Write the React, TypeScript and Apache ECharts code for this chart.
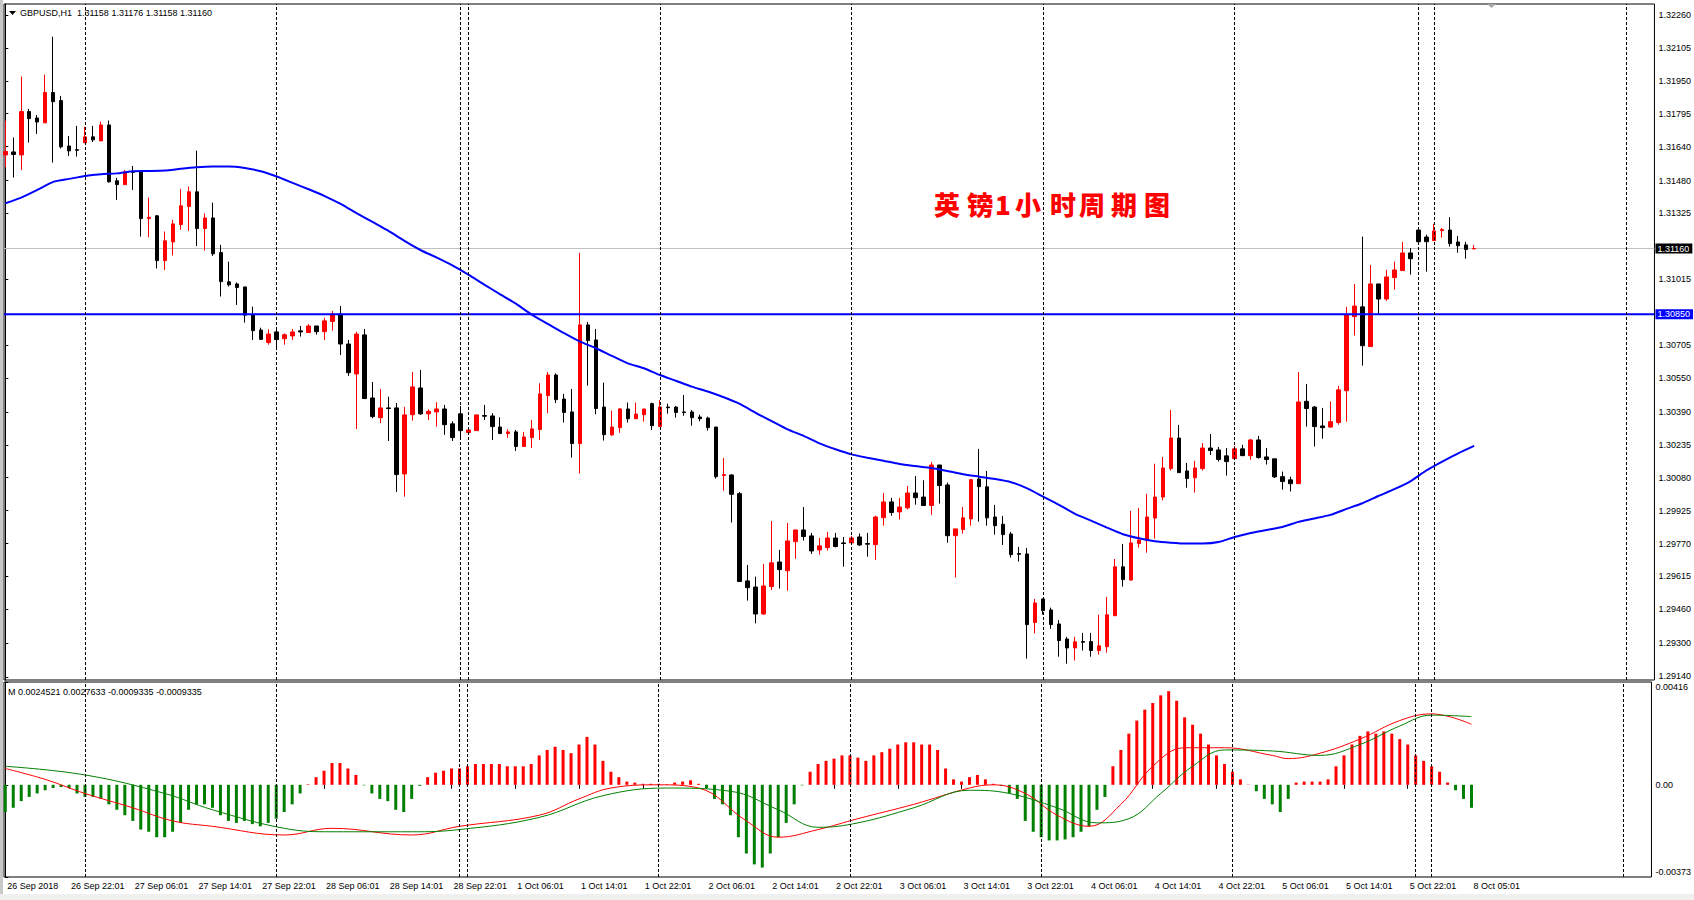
import React, { useEffect, useRef } from 'react';
import * as echarts from 'echarts';

// ---------- data ----------
const openP = [
  1.31601, 1.31615, 1.31601, 1.31805, 1.31775, 1.31752, 1.31895, 1.31857, 1.31643, 1.31626,
  1.31658, 1.31686, 1.31667, 1.31742, 1.31479, 1.31461, 1.31522, 1.31526, 1.31301, 1.31314,
  1.31103, 1.31191, 1.31273, 1.31358, 1.31427, 1.31254, 1.31304, 1.31141, 1.31003, 1.30993,
  1.30979, 1.30848, 1.30776, 1.30717, 1.30767, 1.30735, 1.30748, 1.30772, 1.30764, 1.30795,
  1.30768, 1.30816, 1.30852, 1.30710, 1.30569, 1.30753, 1.30456, 1.30363, 1.30409, 1.30409,
  1.30098, 1.30377, 1.30503, 1.30381, 1.30390, 1.30404, 1.30334, 1.30381, 1.30293, 1.30302,
  1.30373, 1.30371, 1.30319, 1.30288, 1.30296, 1.30227, 1.30269, 1.30307, 1.30467, 1.30564,
  1.30451, 1.30390, 1.30241, 1.30800, 1.30729, 1.30413, 1.30282, 1.30316, 1.30404, 1.30358,
  1.30377, 1.30429, 1.30321, 1.30413, 1.30413, 1.30390, 1.30390, 1.30366, 1.30361, 1.30319,
  1.30090, 1.30093, 1.30005, 1.29594, 1.29565, 1.29438, 1.29567, 1.29683, 1.29642, 1.29779,
  1.29834, 1.29806, 1.29740, 1.29751, 1.29796, 1.29773, 1.29773, 1.29801, 1.29770, 1.29765,
  1.29892, 1.29966, 1.29919, 1.29938, 1.30008, 1.29989, 1.29949, 1.30140, 1.30046, 1.29807,
  1.29836, 1.29886, 1.30074, 1.30037, 1.29895, 1.29861, 1.29815, 1.29723, 1.29721, 1.29398,
  1.29509, 1.29457, 1.29391, 1.29320, 1.29278, 1.29308, 1.29308, 1.29266, 1.29284, 1.29430,
  1.29660, 1.29598, 1.29770, 1.29784, 1.29890, 1.29989, 1.30123, 1.30267, 1.30112, 1.30080,
  1.30123, 1.30220, 1.30211, 1.30183, 1.30170, 1.30216, 1.30184, 1.30258, 1.30178, 1.30169,
  1.30085, 1.30070, 1.30052, 1.30440, 1.30413, 1.30324, 1.30319, 1.30340, 1.30490, 1.30839,
  1.30885, 1.30698, 1.30993, 1.30922, 1.31023, 1.31056, 1.31139, 1.31247, 1.31214, 1.31197,
  1.31244, 1.31247, 1.31191, 1.31177, 1.31158
];
const closeP = [
  1.31617, 1.31603, 1.31805, 1.31772, 1.31756, 1.31895, 1.31852, 1.31639, 1.31620, 1.31623,
  1.31686, 1.31672, 1.31742, 1.31474, 1.31461, 1.31521, 1.31519, 1.31301, 1.31307, 1.31103,
  1.31196, 1.31276, 1.31361, 1.31427, 1.31254, 1.31304, 1.31135, 1.31004, 1.30989, 1.30976,
  1.30846, 1.30773, 1.30732, 1.30757, 1.30731, 1.30754, 1.30767, 1.30767, 1.30795, 1.30768,
  1.30819, 1.30852, 1.30710, 1.30575, 1.30757, 1.30453, 1.30368, 1.30409, 1.30406, 1.30095,
  1.30376, 1.30508, 1.30381, 1.30393, 1.30404, 1.30330, 1.30269, 1.30302, 1.30305, 1.30376,
  1.30370, 1.30321, 1.30288, 1.30296, 1.30227, 1.30272, 1.30310, 1.30475, 1.30564, 1.30448,
  1.30387, 1.30241, 1.30800, 1.30726, 1.30406, 1.30283, 1.30319, 1.30404, 1.30358, 1.30380,
  1.30404, 1.30325, 1.30413, 1.30410, 1.30387, 1.30387, 1.30363, 1.30358, 1.30316, 1.30085,
  1.30095, 1.30002, 1.29591, 1.29562, 1.29438, 1.29570, 1.29679, 1.29647, 1.29782, 1.29834,
  1.29803, 1.29735, 1.29759, 1.29796, 1.29756, 1.29770, 1.29796, 1.29763, 1.29767, 1.29895,
  1.29966, 1.29916, 1.29942, 1.30008, 1.29986, 1.29949, 1.30140, 1.30043, 1.29807, 1.29839,
  1.29891, 1.30071, 1.30038, 1.29891, 1.29854, 1.29812, 1.29718, 1.29719, 1.29388, 1.29490,
  1.29454, 1.29388, 1.29313, 1.29278, 1.29307, 1.29305, 1.29266, 1.29288, 1.29434, 1.29660,
  1.29600, 1.29773, 1.29787, 1.29895, 1.29989, 1.30126, 1.30267, 1.30104, 1.30076, 1.30126,
  1.30220, 1.30208, 1.30166, 1.30156, 1.30216, 1.30184, 1.30258, 1.30175, 1.30166, 1.30084,
  1.30062, 1.30052, 1.30437, 1.30406, 1.30321, 1.30316, 1.30344, 1.30494, 1.30847, 1.30889,
  1.30702, 1.30993, 1.30922, 1.31026, 1.31059, 1.31139, 1.31112, 1.31192, 1.31192, 1.31243,
  1.31249, 1.31183, 1.31173, 1.31155, 1.31160
];
const lowP = [
  1.31543, 1.31494, 1.31530, 1.31659, 1.31700, 1.31752, 1.31565, 1.31631, 1.31596, 1.31593,
  1.31658, 1.31662, 1.31667, 1.31471, 1.31389, 1.31461, 1.31436, 1.31216, 1.31213, 1.31066,
  1.31059, 1.31127, 1.31248, 1.31243, 1.31172, 1.31150, 1.31125, 1.30934, 1.30981, 1.30894,
  1.30811, 1.30729, 1.30729, 1.30707, 1.30690, 1.30707, 1.30729, 1.30745, 1.30764, 1.30754,
  1.30729, 1.30773, 1.30658, 1.30560, 1.30310, 1.30453, 1.30360, 1.30337, 1.30253, 1.30013,
  1.29991, 1.30349, 1.30376, 1.30352, 1.30321, 1.30282, 1.30253, 1.30264, 1.30290, 1.30302,
  1.30352, 1.30258, 1.30288, 1.30268, 1.30206, 1.30227, 1.30220, 1.30258, 1.30384, 1.30432,
  1.30340, 1.30175, 1.30100, 1.30514, 1.30379, 1.30255, 1.30277, 1.30292, 1.30340, 1.30358,
  1.30344, 1.30305, 1.30321, 1.30382, 1.30363, 1.30372, 1.30325, 1.30346, 1.30302, 1.30076,
  1.30019, 1.29869, 1.29591, 1.29501, 1.29394, 1.29434, 1.29551, 1.29558, 1.29548, 1.29698,
  1.29784, 1.29721, 1.29718, 1.29737, 1.29752, 1.29661, 1.29773, 1.29759, 1.29708, 1.29693,
  1.29854, 1.29901, 1.29883, 1.29931, 1.29953, 1.29949, 1.29905, 1.29958, 1.29774, 1.29610,
  1.29817, 1.29854, 1.29873, 1.29854, 1.29812, 1.29763, 1.29704, 1.29685, 1.29228, 1.29346,
  1.29435, 1.29368, 1.29237, 1.29204, 1.29219, 1.29266, 1.29237, 1.29247, 1.29256, 1.29430,
  1.29567, 1.29595, 1.29751, 1.29727, 1.29793, 1.29974, 1.30114, 1.30104, 1.30033, 1.30010,
  1.30114, 1.30187, 1.30156, 1.30090, 1.30170, 1.30184, 1.30165, 1.30170, 1.30142, 1.30079,
  1.30024, 1.30015, 1.30052, 1.30321, 1.30227, 1.30264, 1.30315, 1.30330, 1.30344, 1.30750,
  1.30608, 1.30698, 1.30852, 1.30913, 1.30966, 1.31056, 1.31037, 1.31190, 1.31051, 1.31197,
  1.31211, 1.31169, 1.31140, 1.31112, 1.31158
];
const highP = [
  1.31763, 1.31683, 1.31970, 1.31818, 1.31789, 1.31979, 1.32158, 1.31879, 1.31690, 1.31738,
  1.31734, 1.31738, 1.31758, 1.31763, 1.31493, 1.31530, 1.31549, 1.31529, 1.31400, 1.31318,
  1.31240, 1.31295, 1.31441, 1.31452, 1.31621, 1.31325, 1.31376, 1.31177, 1.31098, 1.31000,
  1.30979, 1.30886, 1.30787, 1.30779, 1.30779, 1.30760, 1.30781, 1.30795, 1.30804, 1.30795,
  1.30833, 1.30866, 1.30889, 1.30729, 1.30768, 1.30781, 1.30531, 1.30498, 1.30462, 1.30432,
  1.30414, 1.30578, 1.30588, 1.30403, 1.30436, 1.30423, 1.30346, 1.30418, 1.30308, 1.30376,
  1.30423, 1.30384, 1.30365, 1.30308, 1.30305, 1.30296, 1.30352, 1.30525, 1.30578, 1.30572,
  1.30475, 1.30498, 1.31140, 1.30814, 1.30781, 1.30528, 1.30396, 1.30409, 1.30434, 1.30434,
  1.30404, 1.30434, 1.30446, 1.30429, 1.30418, 1.30470, 1.30399, 1.30377, 1.30368, 1.30319,
  1.30173, 1.30096, 1.30013, 1.29669, 1.29614, 1.29674, 1.29876, 1.29740, 1.29867, 1.29834,
  1.29942, 1.29820, 1.29796, 1.29825, 1.29820, 1.29801, 1.29806, 1.29817, 1.29820, 1.29901,
  1.30008, 1.29985, 1.29985, 1.30041, 1.30088, 1.30068, 1.30154, 1.30140, 1.30057, 1.29839,
  1.29942, 1.30071, 1.30216, 1.30112, 1.29952, 1.29900, 1.29825, 1.29754, 1.29749, 1.29509,
  1.29509, 1.29468, 1.29409, 1.29330, 1.29330, 1.29349, 1.29349, 1.29435, 1.29518, 1.29697,
  1.29768, 1.29924, 1.29938, 1.30004, 1.30146, 1.30178, 1.30399, 1.30329, 1.30150, 1.30159,
  1.30244, 1.30286, 1.30225, 1.30220, 1.30230, 1.30235, 1.30263, 1.30277, 1.30220, 1.30169,
  1.30109, 1.30085, 1.30578, 1.30522, 1.30418, 1.30409, 1.30439, 1.30512, 1.30885, 1.30993,
  1.31216, 1.31082, 1.30993, 1.31059, 1.31098, 1.31191, 1.31162, 1.31249, 1.31225, 1.31276,
  1.31257, 1.31308, 1.31219, 1.31191, 1.31176
];

const maIdx = [
  0, 2, 4, 6, 8, 10, 12, 14, 16, 18, 20, 22, 24, 26, 28, 30, 32, 34, 36, 38,
  40, 42, 44, 46, 48, 50, 52, 54, 56, 58, 60, 62, 64, 66, 68, 70, 72, 74, 76, 78,
  80, 82, 84, 86, 88, 90, 92, 94, 96, 98, 100, 102, 104, 106, 108, 110, 112, 114, 116, 118,
  120, 122, 124, 126, 128, 130, 132, 134, 136, 138, 140, 142, 144, 146, 148, 150, 152, 154, 156, 158,
  160, 162, 164, 166, 168, 170, 172, 174, 176, 178, 180, 182, 184
];
const maVal = [
  1.31373, 1.31400, 1.31436, 1.31474, 1.31488, 1.31502, 1.31510, 1.31514, 1.31524, 1.31525,
  1.31527, 1.31536, 1.31543, 1.31546, 1.31546, 1.31539, 1.31524, 1.31499, 1.31469, 1.31439,
  1.31407, 1.31370, 1.31327, 1.31285, 1.31243, 1.31196, 1.31153, 1.31118, 1.31080, 1.31037,
  1.30990, 1.30944, 1.30899, 1.30847, 1.30804, 1.30761, 1.30721, 1.30690, 1.30654, 1.30619,
  1.30596, 1.30564, 1.30537, 1.30509, 1.30486, 1.30459, 1.30428, 1.30386, 1.30347, 1.30308,
  1.30277, 1.30242, 1.30214, 1.30190, 1.30174, 1.30160, 1.30145, 1.30135, 1.30126, 1.30112,
  1.30096, 1.30085, 1.30074, 1.30059, 1.30030, 1.29991, 1.29952, 1.29910, 1.29878, 1.29845,
  1.29814, 1.29795, 1.29781, 1.29774, 1.29770, 1.29770, 1.29777, 1.29801, 1.29820, 1.29834,
  1.29848, 1.29872, 1.29888, 1.29905, 1.29933, 1.29960, 1.29994, 1.30026, 1.30063, 1.30114,
  1.30156, 1.30195, 1.30230
];

const histVal = [
  -0.00110, -0.00093, -0.00066, -0.00049, -0.00035, -0.00022, -0.00013, -0.00009, -0.00013, -0.00035,
  -0.00049, -0.00049, -0.00057, -0.00079, -0.00101, -0.00123, -0.00146, -0.00181, -0.00190, -0.00212,
  -0.00212, -0.00190, -0.00154, -0.00101, -0.00079, -0.00079, -0.00093, -0.00123, -0.00146, -0.00154,
  -0.00146, -0.00159, -0.00168, -0.00154, -0.00137, -0.00110, -0.00079, -0.00035, 0.00002, 0.00031,
  0.00057, 0.00088, 0.00088, 0.00066, 0.00040, -0.00002, -0.00035, -0.00057, -0.00066, -0.00101,
  -0.00110, -0.00057, -0.00004, 0.00031, 0.00049, 0.00057, 0.00066, 0.00066, 0.00075, 0.00084,
  0.00084, 0.00084, 0.00084, 0.00075, 0.00075, 0.00075, 0.00084, 0.00119, 0.00141, 0.00154,
  0.00141, 0.00128, 0.00163, 0.00194, 0.00163, 0.00097, 0.00053, 0.00031, 0.00013, 0.00009,
  0.00004, 0.00004, 0.00004, 0.00002, 0.00009, 0.00013, 0.00018, 0.00004, -0.00013, -0.00057,
  -0.00079, -0.00123, -0.00212, -0.00278, -0.00322, -0.00335, -0.00278, -0.00212, -0.00154, -0.00079,
  -0.00002, 0.00053, 0.00084, 0.00097, 0.00106, 0.00119, 0.00119, 0.00110, 0.00097, 0.00119,
  0.00132, 0.00146, 0.00163, 0.00172, 0.00172, 0.00163, 0.00163, 0.00141, 0.00066, 0.00022,
  0.00013, 0.00031, 0.00040, 0.00022, 0.00004, -0.00004, -0.00035, -0.00057, -0.00146, -0.00190,
  -0.00212, -0.00225, -0.00225, -0.00221, -0.00212, -0.00190, -0.00168, -0.00101, -0.00049, 0.00075,
  0.00141, 0.00207, 0.00260, 0.00304, 0.00331, 0.00362, 0.00379, 0.00340, 0.00273, 0.00243,
  0.00207, 0.00163, 0.00119, 0.00084, 0.00053, 0.00022, 0.00001, -0.00026, -0.00057, -0.00079,
  -0.00110, -0.00057, 0.00009, 0.00013, 0.00013, 0.00013, 0.00022, 0.00075, 0.00119, 0.00163,
  0.00198, 0.00216, 0.00207, 0.00216, 0.00207, 0.00185, 0.00163, 0.00119, 0.00097, 0.00075,
  0.00053, 0.00009, -0.00022, -0.00057, -0.00093
];

const macdIdx = [0, 5, 10, 16, 21, 26, 35, 41, 51, 57, 67, 72, 76, 82, 87, 93, 97, 102, 107, 114, 121, 124, 128, 132, 136, 140, 144, 148, 153, 159, 161, 165, 170, 175, 179, 184];
const macdMain = [0.00066, 0.00022, -0.00035, -0.00093, -0.00146, -0.00168, -0.00203, -0.00176, -0.00203, -0.00168, -0.00123, -0.00057, -0.00013, 0.0, -0.00013, -0.00146, -0.00212, -0.00181, -0.00137, -0.00079, -0.00013, 0.0, -0.00035, -0.00123, -0.00168, -0.00079, 0.00075, 0.0015, 0.0015, 0.00119, 0.00106, 0.00128, 0.00185, 0.0026, 0.00287, 0.00245];
const sigIdx = [0, 10, 20, 26, 35, 41, 51, 57, 67, 75, 83, 91, 97, 102, 107, 114, 121, 126, 132, 137, 141, 145, 149, 153, 159, 165, 170, 175, 179, 184];
const sigVal = [0.00075, 0.0004, -0.00035, -0.00101, -0.00176, -0.0019, -0.0019, -0.00181, -0.00132, -0.00044, -0.00013, -0.00026, -0.00101, -0.00172, -0.00154, -0.00093, -0.00022, -0.00035, -0.00093, -0.00154, -0.00137, -0.00035, 0.00075, 0.00141, 0.00137, 0.00119, 0.00163, 0.00238, 0.00282, 0.00276];

const xLabelIdx = [0, 8, 16, 24, 32, 40, 48, 56, 64, 72, 80, 88, 96, 104, 112, 120, 128, 136, 144, 152, 160, 168, 176, 184];
const xLabels = [
  '26 Sep 2018', '26 Sep 22:01', '27 Sep 06:01', '27 Sep 14:01', '27 Sep 22:01', '28 Sep 06:01',
  '28 Sep 14:01', '28 Sep 22:01', '1 Oct 06:01', '1 Oct 14:01', '1 Oct 22:01', '2 Oct 06:01',
  '2 Oct 14:01', '2 Oct 22:01', '3 Oct 06:01', '3 Oct 14:01', '3 Oct 22:01', '4 Oct 06:01',
  '4 Oct 14:01', '4 Oct 22:01', '5 Oct 06:01', '5 Oct 14:01', '5 Oct 22:01', '8 Oct 05:01'
];
const priceTicks = [1.2914, 1.293, 1.2946, 1.29615, 1.2977, 1.29925, 1.3008, 1.30235, 1.3039, 1.3055, 1.30705, 1.31015, 1.31325, 1.3148, 1.3164, 1.31795, 1.3195, 1.32105, 1.3226];
const macdTicks = [0.00416, 0, -0.00373];
const separatorIdx = [10, 34, 57, 58, 82, 106, 130, 154, 177, 179, 203];
const levelPrice = 1.3085;
const bidPrice = 1.3116;
const symbolHeader = 'GBPUSD,H1  1.31158 1.31176 1.31158 1.31160';
const macdHeader = 'M 0.0024521 0.0027633 -0.0009335 -0.0009335';
const titleChars = ['英', '镑', '1', '小', '时', '周', '期', '图'];
const titleCenters = [947, 980, 1003, 1028, 1063, 1092, 1124, 1157];

const FONT = '"Liberation Sans", Arial, sans-serif';
const XMIN = -0.1625;
const XMAX = 206.5875;
const PMIN = 1.29127;
const PMAX = 1.32312;
const MMIN = -0.00373;
const MMAX = 0.00416;

export default function App() {
  const ref = useRef<HTMLDivElement>(null);
  useEffect(() => {
    const chart = echarts.init(ref.current as HTMLDivElement, null, { renderer: 'svg' });
    const candleData = openP.map((o, i) => [i, o, closeP[i], lowP[i], highP[i]]);
    const maData = maIdx.map((x, k) => [x, maVal[k]]);
    const histData = histVal.map((v, i) => ({
      value: [i, v],
      itemStyle: { color: v >= 0 ? '#FF0000' : '#008000' },
    }));
    const mainData = macdIdx.map((x, k) => [x, macdMain[k]]);
    const sigData = sigIdx.map((x, k) => [x, sigVal[k]]);
    const labelMap = new Map<number, string>();
    xLabelIdx.forEach((v, k) => labelMap.set(v, xLabels[k]));

    const sepMarkLine = {
      silent: true,
      symbol: ['none', 'none'],
      label: { show: false },
      emphasis: { disabled: true },
      lineStyle: { color: '#000000', type: [3, 2], width: 1 },
      data: separatorIdx.map((x) => ({ xAxis: x })),
    };

    const hLine = (price: number, color: string, width: number, bg: string, z: number) => ({
      type: 'line', xAxisIndex: 0, yAxisIndex: 0, z, silent: true,
      data: [[XMIN, price], [XMAX, price]],
      showSymbol: false, symbol: 'none',
      lineStyle: { color, width, type: 'solid' },
      endLabel: {
        show: true,
        distance: 1,
        formatter: () => price.toFixed(5),
        color: '#ffffff',
        backgroundColor: bg,
        padding: [1, 3, 0, 2],
        fontSize: 9,
        fontFamily: FONT,
      },
    });

    const option: any = {
      animation: false,
      backgroundColor: '#ffffff',
      grid: [
        { left: 4, top: 4, width: 1654, height: 676, show: true, borderColor: '#000000', borderWidth: 1, backgroundColor: 'transparent' },
        { left: 4, top: 682, width: 1654, height: 195, show: true, borderColor: '#000000', borderWidth: 1, backgroundColor: 'transparent' },
      ],
      xAxis: [
        { type: 'value', gridIndex: 0, min: XMIN, max: XMAX, show: false, splitLine: { show: false } },
        {
          type: 'value', gridIndex: 1, min: XMIN, max: XMAX,
          splitLine: { show: false },
          axisLine: { show: false },
          axisTick: { show: true, customValues: xLabelIdx, length: 4, lineStyle: { color: '#000000' } },
          axisLabel: {
            customValues: xLabelIdx,
            formatter: (v: number) => labelMap.get(Math.round(v)) ?? '',
            align: 'left', margin: 4, padding: [0, 0, 0, 2],
            fontSize: 9, fontFamily: FONT, color: '#000000',
          },
        },
      ],
      yAxis: [
        {
          type: 'value', gridIndex: 0, position: 'right', min: PMIN, max: PMAX,
          splitLine: { show: false },
          axisLine: { show: true, lineStyle: { color: '#000000' } },
          axisTick: { show: true, length: 3, customValues: priceTicks, lineStyle: { color: '#000000' } },
          axisLabel: {
            customValues: priceTicks,
            formatter: (v: number) => (v === priceTicks[0] ? '{lo|' + v.toFixed(5) + '}' : v.toFixed(5)),
            rich: { lo: { padding: [0, 0, 2, 0], fontSize: 9, fontFamily: FONT, color: '#000000' } },
            margin: 4, fontSize: 9, fontFamily: FONT, color: '#000000',
          },
        },
        {
          type: 'value', gridIndex: 1, position: 'right', min: MMIN, max: MMAX,
          splitLine: { show: false },
          axisLine: { show: true, lineStyle: { color: '#000000' } },
          axisTick: { show: true, length: 3, customValues: macdTicks, lineStyle: { color: '#000000' } },
          axisLabel: {
            customValues: macdTicks,
            formatter: (v: number) => {
              if (Math.abs(v) < 1e-9) return '0.00';
              if (v > 0) return '{hi|' + v.toFixed(5) + '}';
              return '{lo|' + v.toFixed(5) + '}';
            },
            rich: {
              hi: { padding: [10, 0, 0, 0], fontSize: 9, fontFamily: FONT, color: '#000000' },
              lo: { padding: [0, 0, 10, 0], fontSize: 9, fontFamily: FONT, color: '#000000' },
            },
            margin: 4, fontSize: 9, fontFamily: FONT, color: '#000000',
          },
        },
      ],
      series: [
        { type: 'line', xAxisIndex: 0, yAxisIndex: 0, data: [], z: 1, silent: true, markLine: sepMarkLine },
        hLine(bidPrice, '#C0C0C0', 1, '#000000', 1),
        {
          type: 'candlestick', xAxisIndex: 0, yAxisIndex: 0, z: 2, barWidth: 4, silent: true,
          itemStyle: { color: '#FF0000', color0: '#000000', borderColor: '#FF0000', borderColor0: '#000000', borderWidth: 1 },
          data: candleData,
        },
        {
          type: 'line', xAxisIndex: 0, yAxisIndex: 0, z: 3, data: maData, showSymbol: false, silent: true,
          smooth: 0.2,
          lineStyle: { color: '#0000FF', width: 2 },
        },
        hLine(levelPrice, '#0000FF', 2, '#0000FF', 4),
        { type: 'line', xAxisIndex: 1, yAxisIndex: 1, data: [], z: 1, silent: true, markLine: sepMarkLine },
        {
          type: 'bar', xAxisIndex: 1, yAxisIndex: 1, z: 2, barWidth: 3, silent: true, data: histData,
        },
        {
          type: 'line', xAxisIndex: 1, yAxisIndex: 1, z: 3, data: mainData, showSymbol: false, smooth: 0.4, silent: true,
          lineStyle: { color: '#FF0000', width: 1 },
        },
        {
          type: 'line', xAxisIndex: 1, yAxisIndex: 1, z: 3, data: sigData, showSymbol: false, smooth: 0.4, silent: true,
          lineStyle: { color: '#008000', width: 1 },
        },
      ],
      graphic: [
        { type: 'rect', shape: { x: 0, y: 0, width: 3, height: 900 }, style: { fill: '#c8c8c8' }, silent: true },
        { type: 'rect', shape: { x: 0, y: 894, width: 1694, height: 6 }, style: { fill: '#f0f0f0' }, silent: true },
        { type: 'polygon', shape: { points: [[9, 11], [16, 11], [12.5, 15]] }, style: { fill: '#000000' }, silent: true },
        {
          type: 'text', x: 20, y: 13, silent: true,
          style: { text: symbolHeader, fill: '#000000', font: '9px "Liberation Sans", Arial, sans-serif', textVerticalAlign: 'middle' },
        },
        {
          type: 'text', x: 8, y: 692, silent: true,
          style: { text: macdHeader, fill: '#000000', font: '9px "Liberation Sans", Arial, sans-serif', textVerticalAlign: 'middle' },
        },
        { type: 'polygon', shape: { points: [[1487, 4], [1496, 4], [1491.5, 8]] }, style: { fill: '#a8a8a8' }, silent: true },
        ...titleChars.map((ch, k) => ({
          type: 'text', x: titleCenters[k], y: 203, silent: true, z: 10,
          style: {
            text: ch, fill: '#FF0000',
            font: '900 26px "Noto Sans CJK SC", sans-serif',
            textAlign: 'center', textVerticalAlign: 'middle',
          },
        })),
      ],
    };
    chart.setOption(option);
    return () => chart.dispose();
  }, []);
  return (
    <div
      ref={ref}
      style={{ position: 'absolute', left: 0, top: 0, width: 1694, height: 900, background: '#ffffff' }}
    />
  );
}
